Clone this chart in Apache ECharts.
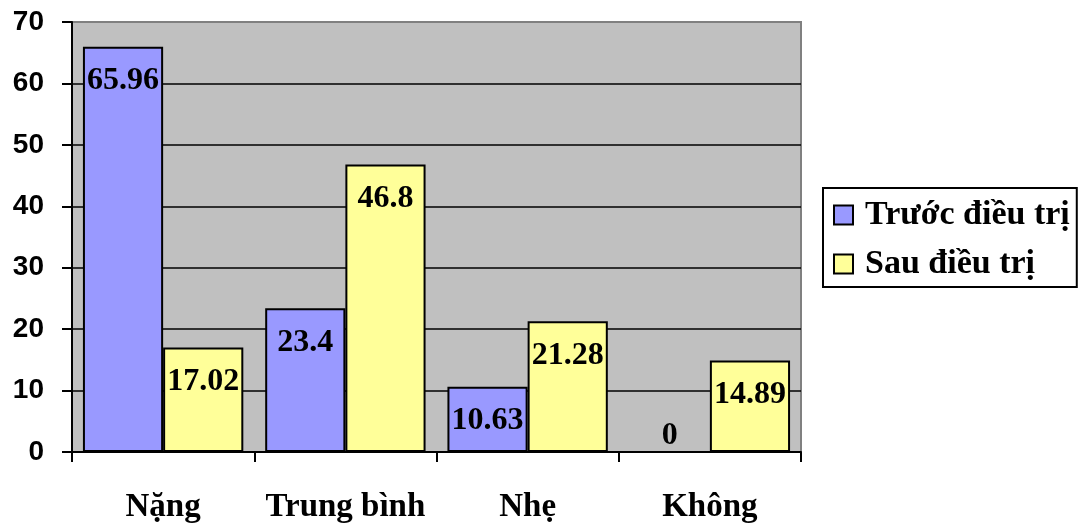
<!DOCTYPE html>
<html>
<head>
<meta charset="utf-8">
<script src="https://cdn.jsdelivr.net/npm/echarts@6/dist/echarts.min.js"></script>
<style>
  html, body { margin: 0; padding: 0; background: #ffffff; }
  #chart { width: 1083px; height: 527px; }
</style>
</head>
<body>
<div id="chart"></div>
<script>
// Mức độ bệnh trước và sau điều trị (%)
const categories = ['Nặng', 'Trung bình', 'Nhẹ', 'Không'];
const truocDieuTri = [65.96, 23.4, 10.63, 0];
const sauDieuTri = [17.02, 46.8, 21.28, 14.89];
const seriesNames = ['Trước điều trị', 'Sau điều trị'];
const yTicks = [0, 10, 20, 30, 40, 50, 60, 70];

const serif = "'Liberation Serif', 'Times New Roman', serif";
const sans = "'Liberation Sans', Arial, sans-serif";

// zero-height bars keep their label just above the baseline
function toBarData(values) {
  return values.map(v => v === 0
    ? { value: v, label: { position: 'insideBottom', distance: 1 } }
    : v);
}

const labelStyle = {
  show: true,
  position: 'insideTop',
  distance: 18,
  color: '#000',
  fontFamily: serif,
  fontWeight: 'bold',
  fontSize: 32
};

const chart = echarts.init(document.getElementById('chart'), null, { renderer: 'canvas' });
chart.setOption({
  backgroundColor: '#ffffff',
  animation: false,
  grid: {
    left: 72, right: 282, top: 22, bottom: 75,
    show: true,
    backgroundColor: '#C0C0C0',
    borderColor: '#808080',
    borderWidth: 2
  },
  legend: {
    orient: 'vertical',
    left: 823,
    top: 188,
    padding: [9, 7, 5, 10],
    itemGap: 13,
    itemWidth: 19,
    itemHeight: 19,
    icon: 'rect',
    borderColor: '#000',
    borderWidth: 2,
    backgroundColor: '#fff',
    itemStyle: { borderColor: '#000', borderWidth: 2 },
    textStyle: {
      fontFamily: serif,
      fontWeight: 'bold',
      fontSize: 34,
      lineHeight: 36,
      color: '#000',
      padding: [0, 0, 0, 7]
    },
    data: seriesNames
  },
  xAxis: {
    type: 'category',
    data: categories,
    axisLine: { lineStyle: { color: '#000', width: 2 } },
    axisTick: { show: true, interval: 0, length: 10, lineStyle: { color: '#000', width: 2 } },
    axisLabel: {
      interval: 0,
      margin: 39,
      color: '#000',
      fontFamily: serif,
      fontWeight: 'bold',
      fontSize: 33
    }
  },
  yAxis: {
    type: 'value',
    min: yTicks[0],
    max: yTicks[yTicks.length - 1],
    interval: 10,
    axisLine: { show: true, lineStyle: { color: '#000', width: 2 } },
    axisTick: { show: true, length: 10, lineStyle: { color: '#000', width: 2 } },
    splitLine: { show: true, showMaxLine: false, lineStyle: { color: '#000', width: 1.5 } },
    axisLabel: {
      margin: 28,
      color: '#000',
      fontFamily: sans,
      fontWeight: 'bold',
      fontSize: 28
    }
  },
  series: [
    {
      name: seriesNames[0],
      type: 'bar',
      data: toBarData(truocDieuTri),
      barGap: '0%',
      barCategoryGap: '12%',
      itemStyle: { color: '#9999FF', borderColor: '#000', borderWidth: 2 },
      label: labelStyle
    },
    {
      name: seriesNames[1],
      type: 'bar',
      data: toBarData(sauDieuTri),
      barGap: '0%',
      barCategoryGap: '12%',
      itemStyle: { color: '#FFFF99', borderColor: '#000', borderWidth: 2 },
      label: labelStyle
    }
  ]
});
</script>
</body>
</html>
